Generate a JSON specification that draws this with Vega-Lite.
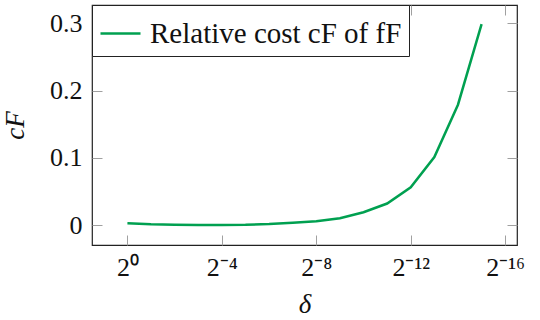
{
  "$schema": "https://vega.github.io/schema/vega-lite/v6.json",
  "autosize": "none",
  "width": 425,
  "height": 240,
  "padding": {"left": 92, "top": 5, "right": 23, "bottom": 75},
  "background": "white",
  "config": {
    "font": "Liberation Serif",
    "view": {"stroke": "#222222", "strokeWidth": 1.2},
    "axis": {"grid": false, "domain": false, "tickColor": "#a0a0a0", "tickWidth": 1, "tickSize": -10, "labelColor": "#111111", "labelFont": "Liberation Serif", "labelFontSize": 26, "titleFont": "Liberation Serif", "titleFontSize": 27, "titleFontWeight": "normal", "titleFontStyle": "italic", "titleColor": "#111111"}
  },
  "data": {"values": [
    {"e": 0, "c": 0.0025, "s": "Relative cost cF of fF"},
    {"e": 1, "c": 0.001, "s": "Relative cost cF of fF"},
    {"e": 2, "c": 0.0005, "s": "Relative cost cF of fF"},
    {"e": 3, "c": 0.0002, "s": "Relative cost cF of fF"},
    {"e": 4, "c": 0.0002, "s": "Relative cost cF of fF"},
    {"e": 5, "c": 0.0004, "s": "Relative cost cF of fF"},
    {"e": 6, "c": 0.0015, "s": "Relative cost cF of fF"},
    {"e": 7, "c": 0.0035, "s": "Relative cost cF of fF"},
    {"e": 8, "c": 0.0055, "s": "Relative cost cF of fF"},
    {"e": 9, "c": 0.010, "s": "Relative cost cF of fF"},
    {"e": 10, "c": 0.019, "s": "Relative cost cF of fF"},
    {"e": 11, "c": 0.032, "s": "Relative cost cF of fF"},
    {"e": 12, "c": 0.056, "s": "Relative cost cF of fF"},
    {"e": 13, "c": 0.101, "s": "Relative cost cF of fF"},
    {"e": 14, "c": 0.179, "s": "Relative cost cF of fF"},
    {"e": 15, "c": 0.299, "s": "Relative cost cF of fF"}
  ]},
  "layer": [
    {
      "mark": {"type": "line", "strokeWidth": 2.5, "clip": true},
      "encoding": {
        "x": {"field": "e", "type": "quantitative", "scale": {"domain": [-1.5, 16.5], "nice": false, "zero": false},
          "axis": {"orient": "bottom", "values": [0, 4, 8, 12, 16], "labelPadding": 19, "title": "δ", "titlePadding": 11,
            "labelExpr": "datum.value == 0 ? '2⁰' : datum.value == 4 ? '2⁻⁴' : datum.value == 8 ? '2⁻⁸' : datum.value == 12 ? '2⁻¹²' : '2⁻¹⁶'"}},
        "y": {"field": "c", "type": "quantitative", "scale": {"domain": [-0.0297, 0.3273], "nice": false, "zero": false},
          "axis": {"orient": "left", "values": [0, 0.1, 0.2, 0.3], "format": ".1~f", "labelPadding": 20, "title": "cF", "titlePadding": 20}},
        "color": {"field": "s", "type": "nominal", "scale": {"range": ["#00A050"]},
          "legend": {"title": null, "orient": "top-left", "offset": 0, "symbolType": "stroke", "symbolSize": 1600, "symbolStrokeWidth": 2.5, "labelFontSize": 29, "labelFont": "Liberation Serif", "labelColor": "#111111", "labelOffset": 8, "padding": 7, "strokeColor": "#222222", "fillColor": "white", "labelLimit": 400}}
      }
    },
    {
      "mark": {"type": "line", "opacity": 0},
      "encoding": {
        "x": {"field": "e", "type": "quantitative", "scale": {"domain": [-1.5, 16.5], "nice": false, "zero": false},
          "axis": {"orient": "top", "values": [0, 4, 8, 12, 16], "labels": false, "title": null}},
        "y": {"field": "c", "type": "quantitative", "scale": {"domain": [-0.0297, 0.3273], "nice": false, "zero": false},
          "axis": {"orient": "right", "values": [0, 0.1, 0.2, 0.3], "labels": false, "title": null}}
      }
    }
  ],
  "resolve": {"axis": {"x": "independent", "y": "independent"}}
}
